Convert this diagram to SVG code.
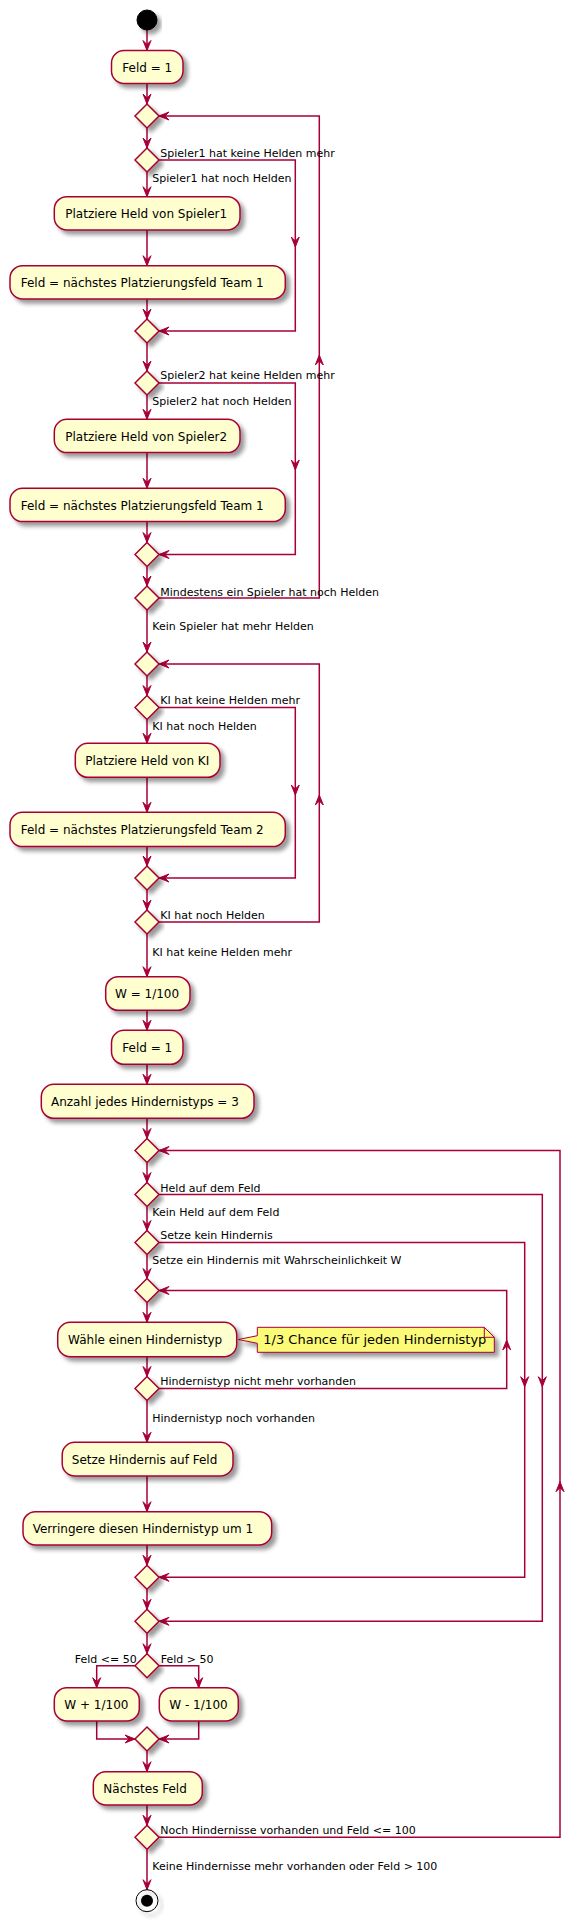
<svg xmlns="http://www.w3.org/2000/svg" width="585" height="1920" viewBox="0 0 585 1920">
<style>
.box{fill:#FEFECE;stroke:#A80036;stroke-width:1.5;filter:url(#sh)}
.dia{fill:#FEFECE;stroke:#A80036;stroke-width:1.5;filter:url(#sh)}
.ln{fill:none;stroke:#A80036;stroke-width:1.5}
.ah{fill:#A80036;stroke:#A80036;stroke-width:1}
.t{font-family:"DejaVu Sans","Liberation Sans",sans-serif;font-size:12px;fill:#000}
.l{font-family:"DejaVu Sans","Liberation Sans",sans-serif;font-size:11px;fill:#000}
.n{font-family:"DejaVu Sans","Liberation Sans",sans-serif;font-size:13px;fill:#000}
</style>
<defs>
<filter id="sh" x="-15%" y="-40%" width="140%" height="200%">
<feGaussianBlur in="SourceAlpha" stdDeviation="2"/>
<feColorMatrix type="matrix" values="0 0 0 0 0  0 0 0 0 0  0 0 0 0 0  0 0 0 0.4 0"/>
<feOffset dx="4" dy="4" result="s"/>
<feMerge><feMergeNode in="s"/><feMergeNode in="SourceGraphic"/></feMerge>
</filter>
<path id="ah" d="M0,0 L-4,-10 L0,-6 L4,-10 Z"/>
</defs>
<rect width="585" height="1920" fill="#FFFFFF"/>

<g id="connectors">
<!-- main vertical arrows -->
<path class="ln" d="M147,30 V50.5"/>
<path class="ln" d="M147,83.5 V104"/>
<path class="ln" d="M147,128 V148"/>
<path class="ln" d="M147,172 V196.7"/>
<path class="ln" d="M147,230 V265.7"/>
<path class="ln" d="M147,299 V319"/>
<path class="ln" d="M147,343 V371"/>
<path class="ln" d="M147,395 V419.3"/>
<path class="ln" d="M147,452.7 V488.3"/>
<path class="ln" d="M147,521.7 V542.5"/>
<path class="ln" d="M147,566.5 V586"/>
<path class="ln" d="M147,610 V652"/>
<path class="ln" d="M147,676 V695.5"/>
<path class="ln" d="M147,719.5 V743.3"/>
<path class="ln" d="M147,777.3 V812.3"/>
<path class="ln" d="M147,846.7 V866"/>
<path class="ln" d="M147,890 V910"/>
<path class="ln" d="M147,934 V976.7"/>
<path class="ln" d="M147,1010.3 V1030.3"/>
<path class="ln" d="M147,1064.3 V1084.3"/>
<path class="ln" d="M147,1118.3 V1138.5"/>
<path class="ln" d="M147,1162.5 V1182.5"/>
<path class="ln" d="M147,1206.5 V1230.5"/>
<path class="ln" d="M147,1254.5 V1278.5"/>
<path class="ln" d="M147,1302.5 V1322.3"/>
<path class="ln" d="M147,1356.7 V1376.5"/>
<path class="ln" d="M147,1400.5 V1442.3"/>
<path class="ln" d="M147,1476 V1511.7"/>
<path class="ln" d="M147,1545 V1565.3"/>
<path class="ln" d="M147,1589.3 V1609.3"/>
<path class="ln" d="M147,1633.3 V1653.7"/>
<path class="ln" d="M147,1751 V1771.7"/>
<path class="ln" d="M147,1805 V1825.3"/>
<path class="ln" d="M147,1849.3 V1889.7"/>
<use href="#ah" class="ah" transform="translate(147,50.5)"/>
<use href="#ah" class="ah" transform="translate(147,104)"/>
<use href="#ah" class="ah" transform="translate(147,148)"/>
<use href="#ah" class="ah" transform="translate(147,196.7)"/>
<use href="#ah" class="ah" transform="translate(147,265.7)"/>
<use href="#ah" class="ah" transform="translate(147,319)"/>
<use href="#ah" class="ah" transform="translate(147,371)"/>
<use href="#ah" class="ah" transform="translate(147,419.3)"/>
<use href="#ah" class="ah" transform="translate(147,488.3)"/>
<use href="#ah" class="ah" transform="translate(147,542.5)"/>
<use href="#ah" class="ah" transform="translate(147,586)"/>
<use href="#ah" class="ah" transform="translate(147,652)"/>
<use href="#ah" class="ah" transform="translate(147,695.5)"/>
<use href="#ah" class="ah" transform="translate(147,743.3)"/>
<use href="#ah" class="ah" transform="translate(147,812.3)"/>
<use href="#ah" class="ah" transform="translate(147,866)"/>
<use href="#ah" class="ah" transform="translate(147,910)"/>
<use href="#ah" class="ah" transform="translate(147,976.7)"/>
<use href="#ah" class="ah" transform="translate(147,1030.3)"/>
<use href="#ah" class="ah" transform="translate(147,1084.3)"/>
<use href="#ah" class="ah" transform="translate(147,1138.5)"/>
<use href="#ah" class="ah" transform="translate(147,1182.5)"/>
<use href="#ah" class="ah" transform="translate(147,1230.5)"/>
<use href="#ah" class="ah" transform="translate(147,1278.5)"/>
<use href="#ah" class="ah" transform="translate(147,1322.3)"/>
<use href="#ah" class="ah" transform="translate(147,1376.5)"/>
<use href="#ah" class="ah" transform="translate(147,1442.3)"/>
<use href="#ah" class="ah" transform="translate(147,1511.7)"/>
<use href="#ah" class="ah" transform="translate(147,1565.3)"/>
<use href="#ah" class="ah" transform="translate(147,1609.3)"/>
<use href="#ah" class="ah" transform="translate(147,1653.7)"/>
<use href="#ah" class="ah" transform="translate(147,1771.7)"/>
<use href="#ah" class="ah" transform="translate(147,1825.3)"/>
<use href="#ah" class="ah" transform="translate(147,1889.7)"/>

<!-- Spieler1 skip branch -->
<path class="ln" d="M159,160 H295.3 V331 H159"/>
<use href="#ah" class="ah" transform="translate(295.3,247)"/>
<use href="#ah" class="ah" transform="translate(159,331) rotate(90)"/>
<!-- Spieler2 skip branch -->
<path class="ln" d="M159,383 H295.3 V554.5 H159"/>
<use href="#ah" class="ah" transform="translate(295.3,470)"/>
<use href="#ah" class="ah" transform="translate(159,554.5) rotate(90)"/>
<!-- Player repeat loop -->
<path class="ln" d="M159,598 H319.3 V116 H159"/>
<use href="#ah" class="ah" transform="translate(319.3,355) rotate(180)"/>
<use href="#ah" class="ah" transform="translate(159,116) rotate(90)"/>
<!-- KI skip branch -->
<path class="ln" d="M159,707.5 H295.3 V878 H159"/>
<use href="#ah" class="ah" transform="translate(295.3,795)"/>
<use href="#ah" class="ah" transform="translate(159,878) rotate(90)"/>
<!-- KI repeat loop -->
<path class="ln" d="M159,922 H319.3 V664 H159"/>
<use href="#ah" class="ah" transform="translate(319.3,795) rotate(180)"/>
<use href="#ah" class="ah" transform="translate(159,664) rotate(90)"/>

<!-- Held auf dem Feld branch -->
<path class="ln" d="M159,1194.5 H542.3 V1621.3 H159"/>
<use href="#ah" class="ah" transform="translate(542.3,1386.7)"/>
<use href="#ah" class="ah" transform="translate(159,1621.3) rotate(90)"/>
<!-- Setze kein Hindernis branch -->
<path class="ln" d="M159,1242.5 H524.7 V1577.3 H159"/>
<use href="#ah" class="ah" transform="translate(524.7,1386.7)"/>
<use href="#ah" class="ah" transform="translate(159,1577.3) rotate(90)"/>
<!-- Hindernistyp repeat loop -->
<path class="ln" d="M159,1388.5 H506.7 V1290.5 H159"/>
<use href="#ah" class="ah" transform="translate(506.7,1340) rotate(180)"/>
<use href="#ah" class="ah" transform="translate(159,1290.5) rotate(90)"/>
<!-- Outer repeat loop -->
<path class="ln" d="M159,1837.3 H560 V1150.5 H159"/>
<use href="#ah" class="ah" transform="translate(560,1481.7) rotate(180)"/>
<use href="#ah" class="ah" transform="translate(159,1150.5) rotate(90)"/>

<!-- Feld split -->
<path class="ln" d="M135,1665.7 H96.7 V1687.7"/>
<path class="ln" d="M159,1665.7 H198.7 V1687.7"/>
<use href="#ah" class="ah" transform="translate(96.7,1687.7)"/>
<use href="#ah" class="ah" transform="translate(198.7,1687.7)"/>
<path class="ln" d="M96.7,1721 V1739 H135"/>
<path class="ln" d="M198.7,1721 V1739 H159"/>
<use href="#ah" class="ah" transform="translate(135,1739) rotate(-90)"/>
<use href="#ah" class="ah" transform="translate(159,1739) rotate(90)"/>

<!-- labels -->
<text class="l" x="160.3" y="156.7">Spieler1 hat keine Helden mehr</text>
<text class="l" x="152.3" y="181.7">Spieler1 hat noch Helden</text>
<text class="l" x="160.3" y="379.3">Spieler2 hat keine Helden mehr</text>
<text class="l" x="152.3" y="405">Spieler2 hat noch Helden</text>
<text class="l" x="160.3" y="595.7">Mindestens ein Spieler hat noch Helden</text>
<text class="l" x="152.3" y="630">Kein Spieler hat mehr Helden</text>
<text class="l" x="160.3" y="704">KI hat keine Helden mehr</text>
<text class="l" x="152.3" y="730">KI hat noch Helden</text>
<text class="l" x="160.3" y="919">KI hat noch Helden</text>
<text class="l" x="152.3" y="956">KI hat keine Helden mehr</text>
<text class="l" x="160.3" y="1191.7">Held auf dem Feld</text>
<text class="l" x="152.3" y="1216">Kein Held auf dem Feld</text>
<text class="l" x="160.3" y="1239.3">Setze kein Hindernis</text>
<text class="l" x="152.3" y="1264.3">Setze ein Hindernis mit Wahrscheinlichkeit W</text>
<text class="l" x="160.3" y="1385.3">Hindernistyp nicht mehr vorhanden</text>
<text class="l" x="152.3" y="1421.7">Hindernistyp noch vorhanden</text>
<text class="l" x="136.7" y="1662.7" text-anchor="end">Feld &lt;= 50</text>
<text class="l" x="160.7" y="1662.7">Feld &gt; 50</text>
<text class="l" x="160.3" y="1834.3">Noch Hindernisse vorhanden und Feld &lt;= 100</text>
<text class="l" x="152.3" y="1870">Keine Hindernisse mehr vorhanden oder Feld &gt; 100</text>
</g>

<g id="start"><circle cx="147" cy="20" r="10" fill="#000000" stroke="#000000" style="filter:url(#sh)"/></g>

<g id="a1"><rect class="box" x="111.5" y="50.5" width="71.5" height="33" rx="12.5"/><text class="t" x="122.3" y="71.5">Feld = 1</text></g>
<g id="d1"><polygon class="dia" points="147,104 159,116 147,128 135,116"/></g>
<g id="d2"><polygon class="dia" points="147,148 159,160 147,172 135,160"/></g>
<g id="a2"><rect class="box" x="54.3" y="196.7" width="185.7" height="33.3" rx="12.5"/><text class="t" x="65.3" y="218">Platziere Held von Spieler1</text></g>
<g id="a3"><rect class="box" x="10" y="265.7" width="275.3" height="33.3" rx="12.5"/><text class="t" x="20.7" y="287">Feld = nächstes Platzierungsfeld Team 1</text></g>
<g id="d3"><polygon class="dia" points="147,319 159,331 147,343 135,331"/></g>
<g id="d4"><polygon class="dia" points="147,371 159,383 147,395 135,383"/></g>
<g id="a4"><rect class="box" x="54.3" y="419.3" width="185.7" height="33.3" rx="12.5"/><text class="t" x="65.3" y="440.6">Platziere Held von Spieler2</text></g>
<g id="a5"><rect class="box" x="10" y="488.3" width="275.3" height="33.3" rx="12.5"/><text class="t" x="20.7" y="509.6">Feld = nächstes Platzierungsfeld Team 1</text></g>
<g id="d5"><polygon class="dia" points="147,542.5 159,554.5 147,566.5 135,554.5"/></g>
<g id="d6"><polygon class="dia" points="147,586 159,598 147,610 135,598"/></g>
<g id="d7"><polygon class="dia" points="147,652 159,664 147,676 135,664"/></g>
<g id="d8"><polygon class="dia" points="147,695.5 159,707.5 147,719.5 135,707.5"/></g>
<g id="a6"><rect class="box" x="75.3" y="743.3" width="144.7" height="34" rx="12.5"/><text class="t" x="85.3" y="765">Platziere Held von KI</text></g>
<g id="a7"><rect class="box" x="10" y="812.3" width="275.3" height="34.3" rx="12.5"/><text class="t" x="20.7" y="834">Feld = nächstes Platzierungsfeld Team 2</text></g>
<g id="d9"><polygon class="dia" points="147,866 159,878 147,890 135,878"/></g>
<g id="d10"><polygon class="dia" points="147,910 159,922 147,934 135,922"/></g>
<g id="a8"><rect class="box" x="105.7" y="976.7" width="84.3" height="33.6" rx="12.5"/><text class="t" x="115" y="998">W = 1/100</text></g>
<g id="a9"><rect class="box" x="111.5" y="1030.3" width="71.5" height="34" rx="12.5"/><text class="t" x="122.3" y="1052">Feld = 1</text></g>
<g id="a10"><rect class="box" x="41.3" y="1084.3" width="212.7" height="34" rx="12.5"/><text class="t" x="51" y="1106">Anzahl jedes Hindernistyps = 3</text></g>
<g id="d11"><polygon class="dia" points="147,1138.5 159,1150.5 147,1162.5 135,1150.5"/></g>
<g id="d12"><polygon class="dia" points="147,1182.5 159,1194.5 147,1206.5 135,1194.5"/></g>
<g id="d13"><polygon class="dia" points="147,1230.5 159,1242.5 147,1254.5 135,1242.5"/></g>
<g id="d14"><polygon class="dia" points="147,1278.5 159,1290.5 147,1302.5 135,1290.5"/></g>
<g id="a11"><rect class="box" x="57.7" y="1322.3" width="179" height="34.4" rx="12.5"/><text class="t" x="68.1" y="1344">Wähle einen Hindernistyp</text></g>
<g id="note"><polygon points="257.3,1327.3 484.3,1327.3 494.3,1337.3 494.3,1352.3 257.3,1352.3 257.3,1343.3 238.3,1339.5 257.3,1335.7" fill="#FBFB77" stroke="#A80036" stroke-width="1" style="filter:url(#sh)"/><path d="M484.3,1327.3 V1337.3 H494.3" fill="none" stroke="#A80036" stroke-width="1"/><text class="n" x="263.3" y="1344.3">1/3 Chance für jeden Hindernistyp</text></g>
<g id="d15"><polygon class="dia" points="147,1376.5 159,1388.5 147,1400.5 135,1388.5"/></g>
<g id="a12"><rect class="box" x="62.2" y="1442.3" width="170.8" height="33.7" rx="12.5"/><text class="t" x="71.8" y="1464">Setze Hindernis auf Feld</text></g>
<g id="a13"><rect class="box" x="23" y="1511.7" width="248.7" height="33.3" rx="12.5"/><text class="t" x="32.7" y="1533">Verringere diesen Hindernistyp um 1</text></g>
<g id="d16"><polygon class="dia" points="147,1565.3 159,1577.3 147,1589.3 135,1577.3"/></g>
<g id="d17"><polygon class="dia" points="147,1609.3 159,1621.3 147,1633.3 135,1621.3"/></g>
<g id="d18"><polygon class="dia" points="147,1653.7 159,1665.7 147,1677.7 135,1665.7"/></g>
<g id="a14"><rect class="box" x="54.3" y="1687.7" width="85" height="33.3" rx="12.5"/><text class="t" x="64.3" y="1709">W + 1/100</text></g>
<g id="a15"><rect class="box" x="159.3" y="1687.7" width="79" height="33.3" rx="12.5"/><text class="t" x="169.3" y="1709">W - 1/100</text></g>
<g id="d19"><polygon class="dia" points="147,1727 159,1739 147,1751 135,1739"/></g>
<g id="a16"><rect class="box" x="93.3" y="1771.7" width="109" height="33.3" rx="12.5"/><text class="t" x="103.3" y="1793">Nächstes Feld</text></g>
<g id="d20"><polygon class="dia" points="147,1825.3 159,1837.3 147,1849.3 135,1837.3"/></g>
<g id="end"><circle cx="147" cy="1900.7" r="11" fill="none" stroke="#000000" stroke-width="1" style="filter:url(#sh)"/><circle cx="147" cy="1900.7" r="6" fill="#000000"/></g>
</svg>
